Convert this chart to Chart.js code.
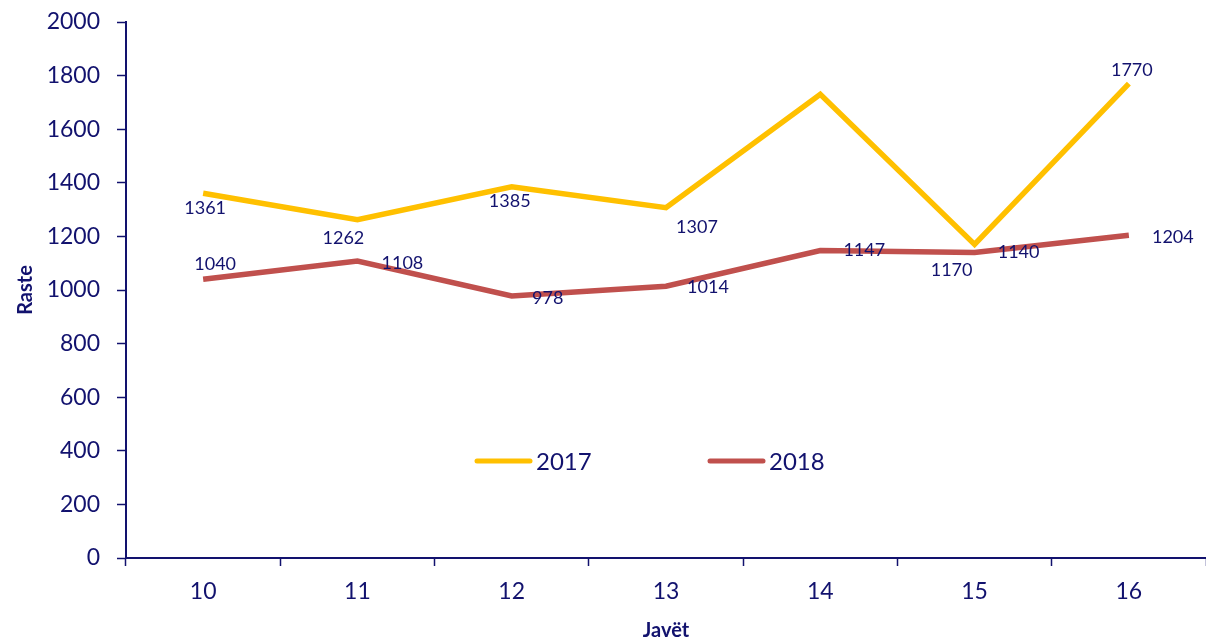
<!DOCTYPE html>
<html lang="sq">
<head>
  <meta charset="UTF-8" />
  <title>Raste sipas javëve</title>
  <script src="https://cdn.jsdelivr.net/npm/chart.js"></script>
  <style>
    body {
      background-color: white;
      margin: 0;
      padding: 0;
    }

    #wrap {
      width: 1206px;
      height: 643px;
      position: relative;
    }
  </style>
</head>
<body>

  <div id="wrap">
    <canvas id="rasteChart"></canvas>
  </div>

  <script>
    const javet = ['10', '11', '12', '13', '14', '15', '16'];
    const raste2017 = [1361, 1262, 1385, 1307, 1730, 1170, 1770];
    const raste2018 = [1040, 1108, 978, 1014, 1147, 1140, 1204];
    const etiketa2017 = ['1361', '1262', '1385', '1307', null, '1170', '1770'];
    const etiketa2018 = ['1040', '1108', '978', '1014', '1147', '1140', '1204'];
    const yTicks = [0, 200, 400, 600, 800, 1000, 1200, 1400, 1600, 1800, 2000];

    const navy = '#12126e';
    const fontFam = 'Lato, "Open Sans", sans-serif';

    // zhvendosja e etiketave nga pika (px)
    const zhvendosje2017 = [[2, 15], [-14, 18], [-2, 14], [31, 19], null, [-23, 26], [3, -13]];
    const zhvendosje2018 = [[12, -15], [45, 2], [36, 2], [42, 1], [44, 0], [44, 0], [44, 2]];

    const etiketaPlugin = {
      id: 'etiketa',
      afterDatasetsDraw(chart) {
        const ctx = chart.ctx;
        ctx.save();
        ctx.font = '18px ' + fontFam;
        ctx.fillStyle = navy;
        ctx.textAlign = 'center';
        ctx.textBaseline = 'middle';
        chart.data.datasets.forEach((ds, i) => {
          const meta = chart.getDatasetMeta(i);
          meta.data.forEach((pt, j) => {
            const txt = ds.etiketa[j];
            const off = ds.zhvendosje[j];
            if (!txt || !off) return;
            ctx.fillText(txt, pt.x + off[0], pt.y + off[1]);
          });
        });

        // legjenda brenda grafikut
        const legY = chart.scales.y.getPixelForValue(362);
        const items = [[477, 0], [710, 1]];
        ctx.font = '24px ' + fontFam;
        ctx.textAlign = 'left';
        items.forEach(([x, i]) => {
          const ds = chart.data.datasets[i];
          ctx.strokeStyle = ds.borderColor;
          ctx.lineWidth = 5;
          ctx.lineCap = 'round';
          ctx.beginPath();
          ctx.moveTo(x, legY);
          ctx.lineTo(x + 53, legY);
          ctx.stroke();
          ctx.fillText(ds.label, x + 59, legY + 1);
        });
        ctx.restore();
      }
    };

    const ctx = document.getElementById('rasteChart').getContext('2d');
    const chart = new Chart(ctx, {
      type: 'line',
      data: {
        labels: javet,
        datasets: [
          {
            label: '2017',
            data: raste2017,
            etiketa: etiketa2017,
            zhvendosje: zhvendosje2017,
            borderColor: '#ffc000',
            borderWidth: 5.5,
            pointRadius: 0,
            tension: 0
          },
          {
            label: '2018',
            data: raste2018,
            etiketa: etiketa2018,
            zhvendosje: zhvendosje2018,
            borderColor: '#c0504d',
            borderWidth: 5.5,
            pointRadius: 0,
            tension: 0
          }
        ]
      },
      options: {
        responsive: true,
        maintainAspectRatio: false,
        animation: false,
        layout: { padding: { top: 22, right: 0, left: 0, bottom: 0 } },
        plugins: {
          legend: { display: false },
          tooltip: { enabled: false }
        },
        scales: {
          x: {
            offset: true,
            grid: {
              offset: true,
              drawOnChartArea: false,
              color: navy,
              tickLength: 8,
              tickWidth: 1.5
            },
            border: { color: navy, width: 2 },
            ticks: {
              color: navy,
              font: { size: 23, family: fontFam },
              padding: 12,
              maxRotation: 0
            },
            title: {
              display: true,
              text: 'Javët',
              color: navy,
              font: { size: 20, weight: 'bold', family: fontFam },
              padding: { top: 6, bottom: 0 }
            },
            afterFit(scale) {
              scale.height = 85;
              scale.paddingLeft = 0;
              scale.paddingRight = 0;
            }
          },
          y: {
            min: 0,
            max: 2000,
            afterBuildTicks(scale) {
              scale.ticks = yTicks.map(v => ({ value: v }));
            },
            grid: {
              drawOnChartArea: false,
              color: navy,
              tickLength: 9,
              tickWidth: 1.5
            },
            border: { color: navy, width: 2 },
            ticks: {
              color: navy,
              font: { size: 23, family: fontFam },
              padding: 17,
              callback: v => String(v)
            },
            title: {
              display: true,
              text: 'Raste',
              color: navy,
              font: { size: 20, weight: 'bold', family: fontFam },
              padding: { top: 14, bottom: 0 }
            },
            afterFit(scale) {
              scale.width = 126;
              scale.paddingTop = 0;
              scale.paddingBottom = 0;
            }
          }
        }
      },
      plugins: [etiketaPlugin]
    });
  </script>
</body>
</html>
